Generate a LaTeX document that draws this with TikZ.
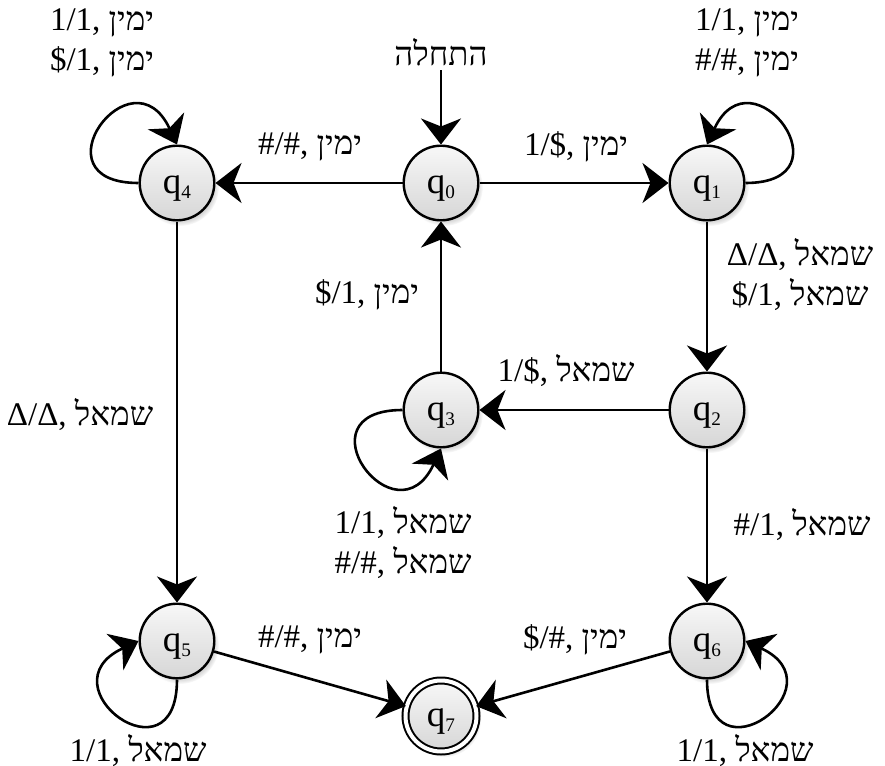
\documentclass[tikz,border=0pt]{standalone}
\usepackage{fontspec}
\setmainfont{Liberation Serif}
\newfontfamily\hebfont[Script=Hebrew]{Liberation Serif}
\TeXXeTstate=1
\usepackage{tikz}
\usetikzlibrary{arrows.meta,shadows,fadings}

\newcommand{\yamin}{{\hebfont\beginR ימין\endR}}
\newcommand{\smol}{{\hebfont\beginR שמאל\endR}}
\newcommand{\qst}[1]{q\raisebox{-2.5pt}{\fontsize{9.6}{10}\selectfont #1}}

\tikzset{
  state/.style={circle, draw, line width=1.2pt, minimum size=37.3pt, inner sep=0pt,
    top color=gray!6, bottom color=gray!32, font=\fontsize{18.5}{20}\selectfont,
    text height=12pt, text depth=2pt,
    circular drop shadow={shadow xshift=1.5pt, shadow yshift=-2pt, shadow scale=1.04, opacity=0.35}},
  final/.style={state, line width=1pt, double, double distance=2pt, minimum size=35.5pt},
  trans/.style={line width=1.3pt, -{Stealth[length=13pt, width=20pt, inset=4pt]}},
  lbl/.style={font=\fontsize{16.5}{20}\selectfont, align=center, inner sep=1pt},
}

\begin{document}
\begin{tikzpicture}[x=0.5pt, y=0.5pt]
    \useasboundingbox (0,0) rectangle (885,-766);

    % states
    \node[state] (q0) at (441,-183) {\qst{0}};
    \node[state] (q1) at (707,-183) {\qst{1}};
    \node[state] (q2) at (707,-410) {\qst{2}};
    \node[state] (q3) at (441,-410) {\qst{3}};
    \node[state] (q4) at (177,-183) {\qst{4}};
    \node[state] (q5) at (177,-641) {\qst{5}};
    \node[state] (q6) at (707,-641) {\qst{6}};
    \node[final] (q7) at (441,-716) {\qst{7}};
    \node[lbl, anchor=south, inner sep=2pt] (start) at (441,-70) {{\hebfont\beginR התחלה\endR}};

    % transitions
    \draw[trans] (start) -- (q0);
    \draw[trans] (q0) -- (q1); % q0-q1
    \draw[trans] (q0) -- (q4); % q0-q4
    \draw[trans] (q1) -- (q2); % q1-q2
    \draw[trans] (q2) -- (q3); % q2-q3
    \draw[trans] (q3) -- (q0); % q3-q0
    \draw[trans] (q4) -- (q5); % q4-q5
    \draw[trans] (q2) -- (q6); % q2-q6
    \draw[trans] (q5) -- (q7); % q5-q7
    \draw[trans] (q6) -- (q7); % q6-q7

    % loops
    \draw[trans] (q4.180) to[out=180, in=115, looseness=5] (q4.90);
    \draw[trans] (q1.0) to[out=0, in=65, looseness=5] (q1.90);
    \draw[trans] (q3.180) to[out=180, in=245, looseness=5] (q3.270);
    \draw[trans] (q5.270) to[out=270, in=205, looseness=5] (q5.180);
    \draw[trans] (q6.270) to[out=270, in=335, looseness=5] (q6.0);

    % labels
    \node[lbl] (l44) at (102,-43) {1/1, \yamin\\\$/1, \yamin};
    \node[lbl] (l11) at (747,-43) {1/1, \yamin\\\#/\#, \yamin};
    \node[lbl] (l04) at (310,-147) {\#/\#, \yamin};
    \node[lbl] (l01) at (576,-147) {1/\$, \yamin};
    \node[lbl] (l12) at (800,-274) {Δ/Δ, \smol\\\$/1, \smol};
    \node[lbl] (l23) at (566,-370) {1/\$, \smol};
    \node[lbl] (l30) at (367,-295) {\$/1, \yamin};
    \node[lbl] (l33) at (403,-542) {1/1, \smol\\\#/\#, \smol};
    \node[lbl] (l45) at (80,-414) {Δ/Δ, \smol};
    \node[lbl] (l26) at (802,-524) {\#/1, \smol};
    \node[lbl] (l57) at (310,-640) {\#/\#, \yamin};
    \node[lbl] (l67) at (575,-640) {\$/\#, \yamin};
    \node[lbl] (l55) at (138,-750) {1/1, \smol};
    \node[lbl] (l66) at (745,-750) {1/1, \smol};
\end{tikzpicture}
\end{document}
